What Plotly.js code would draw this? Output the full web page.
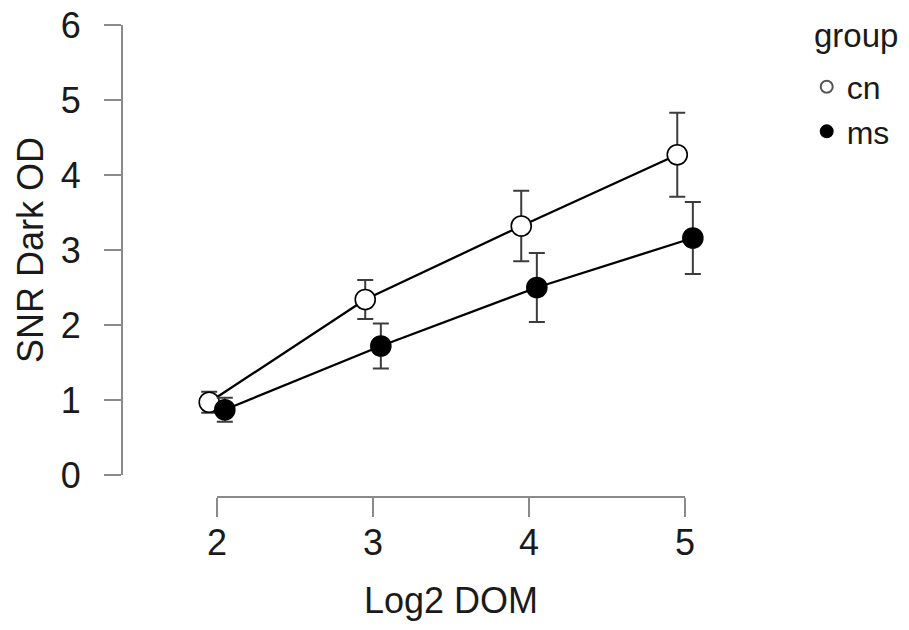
<!DOCTYPE html>
<html>
<head>
<meta charset="utf-8">
<script src="https://cdn.plot.ly/plotly-3.0.1.min.js"></script>
<style>html,body{margin:0;padding:0;background:#fff}#chart{width:909px;height:630px}</style>
</head>
<body>
<div id="chart"></div>
<script>
const doms = [2, 3, 4, 5];
const cnMean = [0.97, 2.34, 3.32, 4.27];
const cnErr = [0.14, 0.26, 0.47, 0.56];
const msMean = [0.87, 1.72, 2.50, 3.16];
const msErr = [0.16, 0.30, 0.46, 0.48];
const groups = ['cn', 'ms'];
const tickVals = [0, 1, 2, 3, 4, 5, 6];
const xTickVals = [2, 3, 4, 5];

const dodge = 0.05;
const FONT = 'Liberation Sans, Arial, sans-serif';
const TXT = '#1a1a1a';
const errStyle = {type: 'data', visible: true, color: '#3c3c3c', thickness: 2, width: 8};

const traces = [
  {
    x: doms.map(v => v - dodge), y: cnMean, mode: 'lines+markers', name: groups[0],
    showlegend: false, cliponaxis: false,
    line: {color: '#000', width: 2.3},
    marker: {symbol: 'circle', size: 20, color: '#fff', line: {color: '#000', width: 1.6}},
    error_y: Object.assign({array: cnErr}, errStyle)
  },
  {
    x: doms.map(v => v + dodge), y: msMean, mode: 'lines+markers', name: groups[1],
    showlegend: false, cliponaxis: false,
    line: {color: '#000', width: 2.3},
    marker: {symbol: 'circle', size: 20, color: '#000', line: {color: '#000', width: 1.6}},
    error_y: Object.assign({array: msErr}, errStyle)
  },
  {x: [null], y: [null], mode: 'markers', name: groups[0], showlegend: true,
   marker: {symbol: 'circle', size: 16, color: '#fff', line: {color: '#555', width: 1.5}}},
  {x: [null], y: [null], mode: 'markers', name: groups[1], showlegend: true,
   marker: {symbol: 'circle', size: 16, color: '#000', line: {color: '#000', width: 1.5}}}
];

const layout = {
  width: 909, height: 630,
  margin: {l: 122, r: 189, t: 25, b: 133, pad: 0},
  paper_bgcolor: '#fff', plot_bgcolor: '#fff',
  font: {family: FONT, color: TXT, size: 34},
  showlegend: true,
  legend: {
    x: 1.145, y: 0.927, xanchor: 'left', yanchor: 'top',
    font: {size: 32, family: FONT, color: TXT},
    itemsizing: 'constant', bgcolor: 'rgba(0,0,0,0)'
  },
  xaxis: {
    range: [1.391, 5.224],
    tickvals: xTickVals, ticktext: xTickVals.map(String),
    ticks: 'outside', ticklen: 19, tickwidth: 2, tickcolor: '#8a8a8a',
    showline: false, showgrid: false, zeroline: false,
    tickfont: {size: 36, family: FONT, color: TXT},
    ticklabelstandoff: -5
  },
  yaxis: {
    range: [-0.2933, 6],
    tickvals: tickVals, ticktext: tickVals.map(String),
    ticks: 'outside', ticklen: 17, tickwidth: 2, tickcolor: '#8a8a8a',
    showline: false, showgrid: false, zeroline: false,
    tickfont: {size: 36, family: FONT, color: TXT},
    ticklabelstandoff: 16
  },
  annotations: [
    {text: 'Log2 DOM', xref: 'x', yref: 'paper', x: 3.5, y: -103 / 472,
     xanchor: 'center', yanchor: 'middle', showarrow: false,
     font: {size: 36, family: FONT, color: TXT}},
    {text: 'SNR Dark OD', xref: 'paper', yref: 'y', x: -92 / 598, y: 3,
     xanchor: 'center', yanchor: 'middle', textangle: -90, showarrow: false,
     font: {size: 36, family: FONT, color: TXT}},
    {text: 'group', xref: 'paper', yref: 'paper', x: 690 / 598, y: (497 - 35) / 472,
     xanchor: 'left', yanchor: 'middle', showarrow: false,
     font: {size: 33, family: FONT, color: TXT}}
  ],
  shapes: [
    {type: 'line', xref: 'paper', yref: 'y', x0: 0, x1: 0, y0: 0, y1: 6,
     line: {color: '#8a8a8a', width: 2}},
    {type: 'line', xref: 'x', yref: 'paper', x0: 2, x1: 5, y0: 0, y1: 0,
     line: {color: '#8a8a8a', width: 2}}
  ]
};

Plotly.newPlot('chart', traces, layout, {displayModeBar: false, staticPlot: true});
</script>
</body>
</html>
